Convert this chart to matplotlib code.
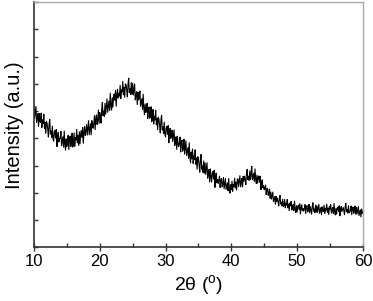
import numpy as np
import matplotlib
matplotlib.use('Agg')
import matplotlib.pyplot as plt

plt.rcParams['font.family'] = ['Liberation Sans', 'DejaVu Sans']
plt.rcParams['mathtext.fontset'] = 'custom'
plt.rcParams['mathtext.rm'] = 'Liberation Sans'

# 2theta sampled every 0.1 degree from 10 to 60
two_theta = np.round(np.arange(10.0, 60.05, 0.1), 1)

# intensity (arbitrary units), one row per degree
intensity = [
    5.17, 4.74, 4.95, 5.17, 4.59, 4.77, 4.91, 4.44, 4.91, 4.63,  # 10
    4.58, 4.93, 4.40, 4.68, 4.55, 4.89, 4.36, 4.58, 4.18, 4.63,
    4.55, 4.33, 4.05, 4.53, 4.70, 4.16, 4.27, 4.03, 4.45, 4.00,
    3.90, 4.23, 4.29, 4.01, 4.33, 3.70, 4.08, 4.23, 3.87, 3.99,
    4.00, 4.26, 3.73, 3.90, 4.06, 3.68, 4.27, 3.78, 3.57, 3.98,
    3.70, 3.88, 4.11, 3.59, 3.97, 4.08, 3.70, 3.84, 4.19, 3.68,  # 15
    3.80, 4.20, 3.71, 4.03, 3.94, 4.33, 3.84, 4.11, 3.74, 4.24,
    3.80, 4.17, 4.28, 4.04, 4.40, 3.82, 4.24, 4.43, 4.11, 4.28,
    4.50, 4.12, 4.38, 4.65, 4.13, 4.35, 4.54, 4.13, 4.65, 4.42,
    4.37, 4.57, 4.83, 4.32, 4.73, 4.86, 4.51, 4.67, 5.04, 4.55,
    4.95, 4.78, 4.56, 5.09, 5.32, 4.83, 5.00, 4.81, 5.29, 4.89,  # 20
    5.15, 5.45, 4.96, 5.17, 5.37, 5.03, 5.66, 5.21, 5.04, 5.49,
    5.15, 5.53, 5.63, 5.40, 5.76, 5.18, 5.60, 5.80, 5.48, 5.65,
    5.55, 5.95, 5.46, 5.78, 5.70, 6.09, 5.60, 5.87, 5.51, 6.00,
    5.97, 5.77, 5.52, 6.01, 6.21, 5.69, 5.83, 5.61, 6.05, 5.62,
    6.02, 5.59, 5.78, 6.00, 5.41, 5.58, 5.71, 5.24, 5.70, 5.41,  # 25
    5.50, 5.74, 5.18, 5.33, 5.46, 5.06, 5.62, 5.11, 4.87, 5.26,
    4.95, 5.09, 5.29, 4.73, 5.08, 5.15, 4.74, 4.84, 5.16, 4.61,
    4.70, 5.06, 4.53, 4.81, 4.68, 5.03, 4.50, 4.73, 4.32, 4.78,
    4.70, 4.48, 4.20, 4.68, 4.85, 4.31, 4.42, 4.18, 4.60, 4.15,
    4.05, 4.38, 4.44, 4.15, 4.47, 3.84, 4.22, 4.37, 4.00, 4.12,  # 30
    4.30, 3.88, 4.08, 4.31, 3.74, 3.92, 4.06, 3.60, 4.08, 3.79,
    3.70, 3.85, 4.05, 3.50, 3.86, 3.94, 3.53, 3.64, 3.97, 3.42,
    3.67, 3.91, 3.37, 3.52, 3.66, 3.27, 3.84, 3.33, 3.10, 3.50,
    3.25, 3.61, 3.08, 3.36, 3.23, 3.58, 3.05, 3.28, 2.87, 3.33,
    3.25, 3.03, 2.76, 3.23, 3.41, 2.87, 2.99, 2.75, 3.17, 2.72,  # 35
    3.10, 2.68, 2.88, 3.11, 2.54, 2.72, 2.86, 2.40, 2.88, 2.59,
    2.40, 2.73, 2.79, 2.51, 2.83, 2.20, 2.58, 2.73, 2.37, 2.49,
    2.34, 2.46, 2.61, 2.20, 2.47, 2.53, 2.22, 2.31, 2.56, 2.15,
    2.34, 2.53, 2.13, 2.25, 2.37, 2.08, 2.53, 2.15, 1.99, 2.30,
    2.12, 2.43, 2.06, 2.31, 2.24, 2.54, 2.18, 2.39, 2.11, 2.49,  # 40
    2.52, 2.23, 2.42, 2.63, 2.22, 2.39, 2.53, 2.22, 2.61, 2.43,
    2.61, 2.48, 2.30, 2.70, 2.86, 2.49, 2.61, 2.46, 2.81, 2.50,
    2.69, 2.98, 2.48, 2.60, 2.72, 2.43, 2.88, 2.50, 2.34, 2.65,
    2.36, 2.60, 2.62, 2.39, 2.61, 2.12, 2.38, 2.48, 2.18, 2.26,
    2.11, 2.18, 2.29, 1.94, 2.14, 2.17, 1.91, 1.96, 2.14, 1.80,  # 45
    2.03, 1.77, 1.89, 2.03, 1.68, 1.78, 1.86, 1.58, 1.87, 1.69,
    1.81, 1.68, 1.52, 1.80, 1.91, 1.59, 1.66, 1.52, 1.77, 1.50,
    1.54, 1.76, 1.45, 1.62, 1.55, 1.76, 1.45, 1.59, 1.35, 1.63,
    1.53, 1.69, 1.37, 1.48, 1.57, 1.35, 1.70, 1.41, 1.28, 1.53,
    1.30, 1.51, 1.55, 1.39, 1.60, 1.23, 1.46, 1.56, 1.35, 1.43,  # 50
    1.33, 1.43, 1.57, 1.24, 1.47, 1.53, 1.30, 1.37, 1.58, 1.27,
    1.49, 1.37, 1.22, 1.52, 1.64, 1.33, 1.41, 1.28, 1.55, 1.29,
    1.53, 1.29, 1.43, 1.58, 1.25, 1.36, 1.46, 1.20, 1.49, 1.33,
    1.32, 1.55, 1.25, 1.43, 1.37, 1.59, 1.29, 1.44, 1.21, 1.50,
    1.41, 1.57, 1.26, 1.37, 1.47, 1.25, 1.61, 1.32, 1.19, 1.44,  # 55
    1.22, 1.43, 1.48, 1.32, 1.53, 1.16, 1.40, 1.50, 1.31, 1.39,
    1.47, 1.35, 1.20, 1.50, 1.62, 1.31, 1.39, 1.26, 1.53, 1.27,
    1.29, 1.39, 1.52, 1.20, 1.42, 1.48, 1.25, 1.32, 1.52, 1.22,
    1.47, 1.22, 1.36, 1.50, 1.17, 1.28, 1.38, 1.12, 1.41, 1.25,
    1.30,  # 60
]

fig = plt.figure(figsize=(3.73, 3.01), dpi=100)
ax = fig.add_axes([0.091, 0.178, 0.882, 0.815])

ax.plot(two_theta, intensity, '-', color='black', lw=0.8)

ax.set_xlim(10, 60)
ax.set_ylim(0, 9)
ax.set_xticks([10, 20, 30, 40, 50, 60])
ax.set_xticks([15, 25, 35, 45, 55], minor=True)
ax.set_yticks(range(10))
ax.set_yticklabels([])

ax.tick_params(axis='x', which='major', direction='inout', length=6, width=1, labelsize=12, pad=2, color='#333333')
ax.tick_params(axis='x', which='minor', direction='in', length=3, width=1, color='#333333')
ax.tick_params(axis='y', which='major', direction='in', length=3, width=1, color='#333333')

for side in ['left', 'bottom']:
    ax.spines[side].set_color('#333333')
    ax.spines[side].set_linewidth(1.2)
for side in ['top', 'right']:
    ax.spines[side].set_color('#aaaaaa')
    ax.spines[side].set_linewidth(1.0)

ax.set_xlabel('2θ ($^{\\rm o}$)', fontsize=14, labelpad=3)
ax.set_ylabel('Intensity (a.u.)', fontsize=14.5, labelpad=4)

fig.savefig('out.png', dpi=100)
